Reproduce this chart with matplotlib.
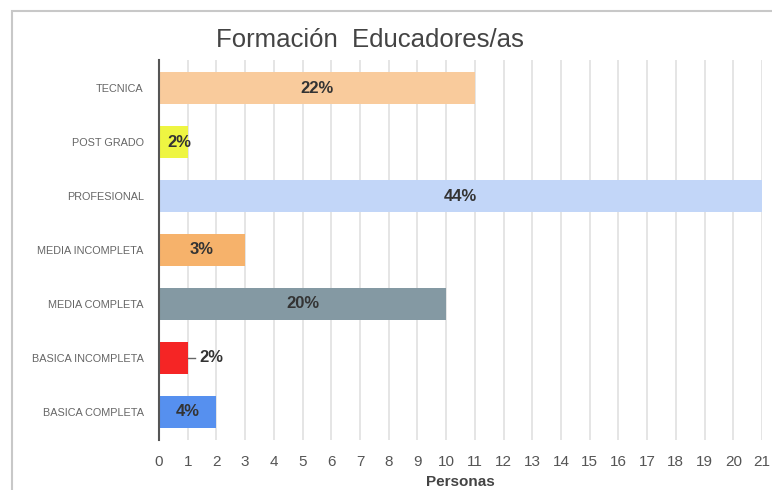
import matplotlib.pyplot as plt
from matplotlib.patches import Rectangle

plt.rcParams['font.family'] = ['Liberation Sans', 'DejaVu Sans']

# data (top to bottom as in the chart)
categorias = ["TECNICA", "POST GRADO", "PROFESIONAL", "MEDIA INCOMPLETA",
              "MEDIA COMPLETA", "BASICA INCOMPLETA", "BASICA COMPLETA"]
personas = [11, 1, 21, 3, 10, 1, 2]
etiquetas = ["22%", "2%", "44%", "3%", "20%", "2%", "4%"]
colores = ["#f9cb9c", "#eef542", "#c2d6f8", "#f6b26b", "#8499a3", "#f52525", "#5690ef"]

fig = plt.figure(figsize=(7.72, 4.9), dpi=100)
ax = fig.add_axes([159 / 772, 1 - 440 / 490, 603 / 772, 380 / 490])

# light frame around the chart area
fig.patches.append(Rectangle((12 / 772, -0.1), 1.2, 1 - 11 / 490 + 0.1,
                             transform=fig.transFigure, fill=False,
                             edgecolor="#c8c8c8", linewidth=1.5))

ypos = list(range(len(categorias)))[::-1]
ax.barh(ypos, personas, height=0.6, color=colores, zorder=2)

for y, v, lab in zip(ypos, personas, etiquetas):
    if lab == "2%" and v == 1 and y == 1:
        # label outside with a short leader
        ax.plot([v, v + 0.25], [y, y], color="#666666", linewidth=1, zorder=3)
        ax.text(v + 0.4, y, lab, ha="left", va="center", fontsize=12,
                color="#333333", fontweight="bold")
    elif v == 1:
        ax.text(0.7, y, lab, ha="center", va="center", fontsize=12,
                color="#333333", fontweight="bold")
    else:
        ax.text(v / 2, y, lab, ha="center", va="center", fontsize=12,
                color="#333333", fontweight="bold")

ax.set_xlim(0, 21)
ax.set_ylim(-0.52, 6.52)
ax.set_xticks(range(0, 22))
ax.set_yticks(ypos)
ax.set_yticklabels(categorias, fontsize=7.8, color="#666666")
ax.tick_params(axis="x", labelsize=11, colors="#555555", length=0, pad=11)
ax.tick_params(axis="y", length=0, pad=11)
ax.grid(axis="x", color="#e0e0e0", linewidth=1.2, zorder=0)

for s in ["top", "right", "bottom"]:
    ax.spines[s].set_visible(False)
ax.spines["left"].set_color("#555555")
ax.spines["left"].set_linewidth(1.5)
ax.spines["left"].set_zorder(4)

ax.set_xlabel("Personas", fontsize=11, fontweight="bold", color="#444444", labelpad=4)
fig.text(370 / 772, 1 - 40 / 490, "Formación  Educadores/as", ha="center",
         va="center", fontsize=18.5, color="#444444")

fig.savefig("out.png", dpi=100)
